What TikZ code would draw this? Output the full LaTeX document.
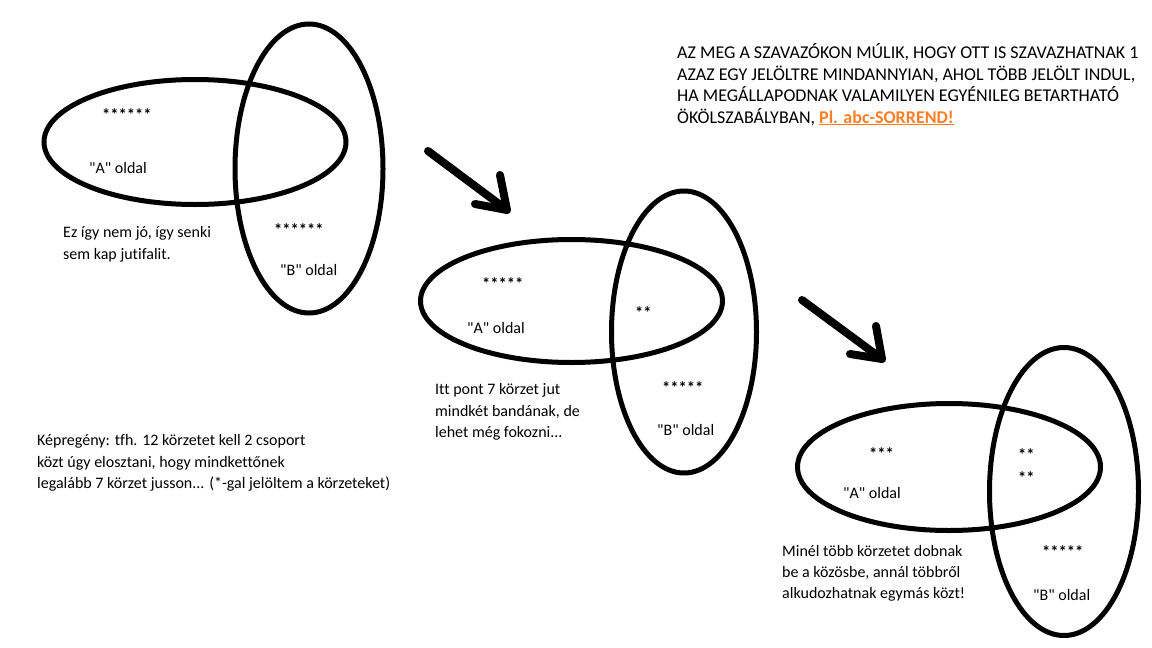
\documentclass[tikz,border=0pt]{standalone}
\usepackage{fontspec}
\setmainfont{Carlito}[Ligatures={TeXOff,CommonOff}]
\usetikzlibrary{shapes.geometric}
\definecolor{paintorange}{HTML}{FF7F27}
\tikzset{
  venn/.style={draw=black, line width=5pt, ellipse, inner sep=0pt},
  txt/.style={anchor=base west, inner sep=0pt, font=\fontsize{16}{22}\selectfont},
  stars/.style={anchor=base west, inner sep=0pt, font=\fontsize{16.5}{22}\selectfont\bfseries},
  notetxt/.style={anchor=base west, inner sep=0pt, font=\fontsize{18}{22}\selectfont},
  bigarrow/.style={draw=black, line width=8pt, line cap=round, line join=round}
}
\begin{document}
\begin{tikzpicture}[x=1pt,y=-1pt]
\useasboundingbox (0,0) rectangle (1152,648);
% ---- Diagram 1
\node[venn, minimum width=302pt, minimum height=125pt] (a1) at (195,142) {};
\node[venn, minimum width=148pt, minimum height=289pt] (b1) at (309,168.5) {};
\node[stars] (s1a) at (102,120) {******};
\node[txt] (l1a) at (89,173) {"A" oldal};
\node[stars] (s1b) at (274,235) {******};
\node[txt] (l1b) at (280,275) {"B" oldal};
\node[txt] (t1a) at (63,237) {Ez így nem jó, így senki};
\node[txt] (t1b) at (63,259) {sem kap jutifalit.};
% ---- intro text
\node[txt] (k1) at (37,445) {Képregény: tfh. 12 körzetet kell 2 csoport};
\node[txt] (k2) at (37,467) {közt úgy elosztani, hogy mindkettőnek};
\node[txt] (k3) at (37,488) {legalább 7 körzet jusson... (*-gal jelöltem a körzeteket)};
% ---- arrow 1
\coordinate (r1s) at (428,151);
\coordinate (r1t) at (507,210);
\coordinate (r1u) at (500,175);
\coordinate (r1v) at (475,204);
\draw[bigarrow] (r1s) -- (r1t);
\draw[bigarrow] (r1u) -- (r1t) -- (r1v);
% ---- Diagram 2
\node[venn, minimum width=302pt, minimum height=123pt] (a2) at (571.5,301) {};
\node[venn, minimum width=145pt, minimum height=282pt] (b2) at (684,332) {};
\node[stars] (s2a) at (482,289) {*****};
\node[stars] (s2c) at (635,318) {**};
\node[txt] (l2a) at (467,333) {"A" oldal};
\node[stars] (s2b) at (662,393) {*****};
\node[txt] (l2b) at (657,435) {"B" oldal};
\node[txt] (t2a) at (435,394) {Itt pont 7 körzet jut};
\node[txt] (t2b) at (435,416) {mindkét bandának, de};
\node[txt] (t2c) at (435,437) {lehet még fokozni...};
% ---- arrow 2
\coordinate (r2s) at (802,300);
\coordinate (r2t) at (882,359);
\coordinate (r2u) at (876,326);
\coordinate (r2v) at (850,354);
\draw[bigarrow] (r2s) -- (r2t);
\draw[bigarrow] (r2u) -- (r2t) -- (r2v);
% ---- Diagram 3
\node[venn, minimum width=303pt, minimum height=127pt] (a3) at (949,467) {};
\node[venn, minimum width=149pt, minimum height=288pt] (b3) at (1064,491.5) {};
\node[stars] (s3a) at (869,459) {***};
\node[stars] (s3c) at (1018,460) {**};
\node[stars] (s3d) at (1018,483) {**};
\node[txt] (l3a) at (843,498) {"A" oldal};
\node[stars] (s3b) at (1042,557) {*****};
\node[txt] (l3b) at (1033,600) {"B" oldal};
\node[txt] (t3a) at (782,556) {Minél több körzetet dobnak};
\node[txt] (t3b) at (782,577) {be a közösbe, annál többről};
\node[txt] (t3c) at (782,598) {alkudozhatnak egymás közt!};
% ---- top-right note
\node[notetxt] (n1) at (677,58) {AZ MEG A SZAVAZÓKON MÚLIK, HOGY OTT IS SZAVAZHATNAK 1};
\node[notetxt] (n2) at (677,80) {AZAZ EGY JELÖLTRE MINDANNYIAN, AHOL TÖBB JELÖLT INDUL,};
\node[notetxt] (n3) at (677,101) {HA MEGÁLLAPODNAK VALAMILYEN EGYÉNILEG BETARTHATÓ};
\node[notetxt] (n4) at (677,123) {ÖKÖLSZABÁLYBAN, {\color{paintorange}\bfseries\underline{Pl. abc-SORREND!}}};
\end{tikzpicture}
\end{document}
